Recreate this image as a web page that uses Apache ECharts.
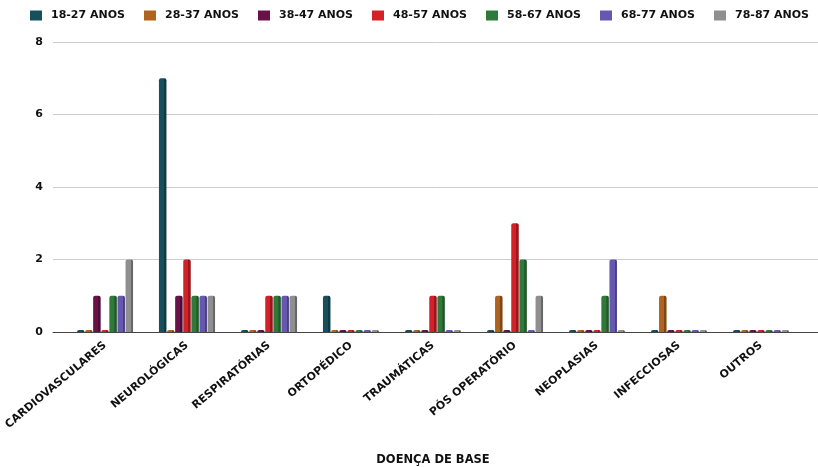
<!DOCTYPE html>
<html><head><meta charset="utf-8">
<script src="https://cdn.jsdelivr.net/npm/echarts@6/dist/echarts.min.js"></script>
<style>html,body{margin:0;padding:0;background:#fff}#c{width:818px;height:467px}</style>
</head><body><div id="c"></div>
<script>
const categories = ['CARDIOVASCULARES','NEUROLÓGICAS','RESPIRATÓRIAS','ORTOPÉDICO','TRAUMÁTICAS','PÓS OPERATÓRIO','NEOPLASIAS','INFECCIOSAS','OUTROS'];
const seriesNames = ['18-27 ANOS','28-37 ANOS','38-47 ANOS','48-57 ANOS','58-67 ANOS','68-77 ANOS','78-87 ANOS'];
const colors = ['#16505c','#b0621f','#6b1149','#d42027','#2f7a3b','#6658b0','#8f8f8f'];
const age18_27 = [0,7,0,1,0,0,0,0,0];
const age28_37 = [0,0,0,0,0,1,0,1,0];
const age38_47 = [1,1,0,0,0,0,0,0,0];
const age48_57 = [0,2,1,0,1,3,0,0,0];
const age58_67 = [1,1,1,0,1,2,1,0,0];
const age68_77 = [1,1,1,0,0,0,2,0,0];
const age78_87 = [2,1,1,0,0,1,0,0,0];
const yTicks = [0,2,4,6,8];
const allData = [age18_27,age28_37,age38_47,age48_57,age58_67,age68_77,age78_87];

function shade(hex, f){
  const n=parseInt(hex.slice(1),16);
  let r=(n>>16)&255,g=(n>>8)&255,b=n&255;
  r=Math.round(r*f);g=Math.round(g*f);b=Math.round(b*f);
  return 'rgb('+r+','+g+','+b+')';
}
const chart = echarts.init(document.getElementById('c'));
const font = '"DejaVu Sans", Verdana, sans-serif';
const txt = {fontWeight:'bold',color:'#111',fontFamily:font};
chart.setOption({
  animation:false,
  textStyle:{fontFamily:font},
  legend:{
    top:5,left:25,width:800,itemWidth:12,itemHeight:10,itemGap:19,icon:'rect',
    textStyle:Object.assign({fontSize:11,padding:[0,0,0,4]},txt),
    data:seriesNames.map((n,i)=>({name:n,itemStyle:{color:colors[i]}}))
  },
  grid:[
    {left:64,right:16,top:42,bottom:135,outerBoundsMode:'none',containLabel:false},
    {left:53,right:0,top:42,bottom:135,outerBoundsMode:'none',containLabel:false}
  ],
  xAxis:[{
    gridIndex:0,type:'category',data:categories,
    name:'DOENÇA DE BASE',nameLocation:'middle',nameGap:122,
    nameTextStyle:Object.assign({fontSize:11.5},txt),
    axisLine:{show:false},
    axisTick:{show:false},
    axisLabel:Object.assign({rotate:40,fontSize:11,margin:12,interval:0},txt)
  },{
    gridIndex:1,type:'value',min:0,max:1,
    axisLine:{show:true,lineStyle:{color:'#444',width:1}},
    axisTick:{show:false},axisLabel:{show:false},splitLine:{show:false}
  }],
  yAxis:[{
    gridIndex:0,type:'value',min:0,max:8,interval:2,
    axisLine:{show:false},axisTick:{show:false},axisLabel:{show:false},splitLine:{show:false}
  },{
    gridIndex:1,type:'value',min:0,max:8,interval:2,
    axisLine:{show:false},axisTick:{show:false},
    axisLabel:Object.assign({fontSize:11,margin:10,formatter:v=>yTicks.includes(v)?String(v):''},txt),
    splitLine:{lineStyle:{color:'#cdcdcd',width:1}}
  }],
  series: seriesNames.map((name,i)=>({
    name,type:'bar',data:allData[i],xAxisIndex:0,yAxisIndex:0,
    barWidth:7.5,barGap:'8%',barMinHeight:2,
    itemStyle:{
      color:new echarts.graphic.LinearGradient(0,0,1,0,[
        {offset:0,color:colors[i]},{offset:0.68,color:colors[i]},{offset:0.69,color:shade(colors[i],0.72)},{offset:1,color:shade(colors[i],0.72)}
      ]),
      borderRadius:[2,2,0,0]
    }
  })),
  color:colors
});
</script></body></html>
